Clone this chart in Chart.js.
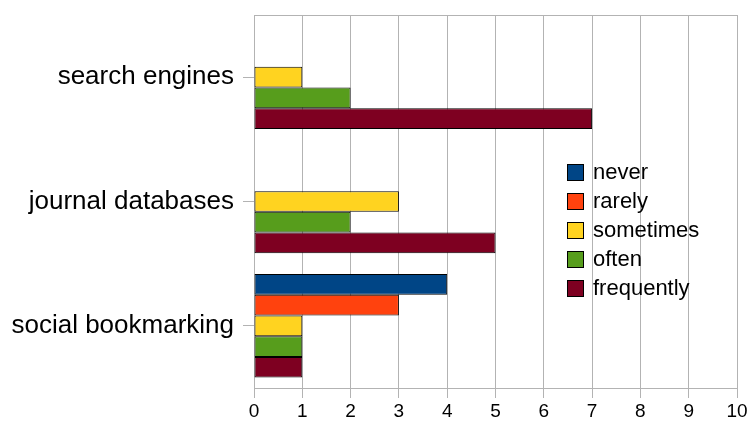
<!DOCTYPE html>
<html>
<head>
<meta charset="utf-8">
<style>
  html, body { margin: 0; padding: 0; background: #fff; }
  #wrap { width: 752px; height: 426px; }
</style>
<script src="https://cdn.jsdelivr.net/npm/chart.js@4/dist/chart.umd.min.js"></script>
</head>
<body>
<div id="wrap"><canvas id="usageChart"></canvas></div>
<script>
// ================================
// DATA
// ================================
const categories = ["search engines", "journal databases", "social bookmarking"];
const seriesNames = ["never", "rarely", "sometimes", "often", "frequently"];
const never = [0, 0, 4];
const rarely = [0, 0, 3];
const sometimes = [1, 3, 1];
const often = [2, 2, 1];
const frequently = [7, 5, 1];
const xTicks = [0, 1, 2, 3, 4, 5, 6, 7, 8, 9, 10];

const seriesColors = ["#004586", "#ff420e", "#ffd320", "#579d1c", "#7e0021"];
const seriesValues = [never, rarely, sometimes, often, frequently];

const FONT = "'Liberation Sans', Arial, sans-serif";
const GRID = "#b3b3b3";

// ================================
// PLOT FRAME + LEGEND
// ================================
const framePlugin = {
    id: "frame",
    beforeDatasetsDraw(chart) {
        const { ctx, chartArea: a } = chart;
        ctx.save();
        ctx.strokeStyle = GRID;
        ctx.lineWidth = 1;
        ctx.strokeRect(a.left + 0.5, a.top + 0.5, a.right - a.left, a.bottom - a.top);
        ctx.restore();
    },
    afterDraw(chart) {
        const ctx = chart.ctx;
        ctx.save();
        ctx.font = "22px " + FONT;
        ctx.textBaseline = "middle";
        chart.data.datasets.forEach((ds, i) => {
            const y = 172 + i * 29;
            ctx.fillStyle = ds.backgroundColor;
            ctx.fillRect(567, y - 8, 17, 17);
            ctx.strokeStyle = "#000";
            ctx.lineWidth = 1;
            ctx.strokeRect(567.5, y - 7.5, 16, 16);
            ctx.fillStyle = "#000";
            ctx.fillText(ds.label, 593, y + 1);
        });
        ctx.restore();
    }
};

// ================================
// CREATE CHART
// ================================
new Chart(document.getElementById("usageChart"), {
    type: "bar",
    data: {
        labels: categories,
        datasets: seriesNames.map((name, i) => ({
            label: name,
            data: seriesValues[i],
            backgroundColor: seriesColors[i],
            borderColor: "#000",
            borderWidth: 1,
            borderSkipped: false,
            categoryPercentage: 0.833,
            barPercentage: 1
        }))
    },
    options: {
        indexAxis: "y",
        responsive: true,
        maintainAspectRatio: false,
        animation: false,
        layout: { padding: { top: 15, right: 15, left: 0, bottom: 0 } },
        plugins: {
            legend: { display: false },
            tooltip: { enabled: false }
        },
        scales: {
            x: {
                min: 0,
                max: 10,
                afterFit: s => { s.height = 38; s.paddingLeft = 0; s.paddingRight = 0; },
                afterBuildTicks: s => { s.ticks = xTicks.map(v => ({ value: v })); },
                grid: { color: GRID, tickLength: 10, tickColor: GRID },
                border: { color: GRID },
                ticks: { color: "#000", font: { family: FONT, size: 19 }, padding: 2 }
            },
            y: {
                afterFit: s => { s.width = 254; s.paddingTop = 0; s.paddingBottom = 0; },
                grid: { offset: false, drawOnChartArea: false, tickLength: 11, tickColor: GRID },
                border: { color: GRID },
                ticks: { color: "#000", font: { family: FONT, size: 26 }, padding: 9 }
            }
        }
    },
    plugins: [framePlugin]
});
</script>
</body>
</html>
